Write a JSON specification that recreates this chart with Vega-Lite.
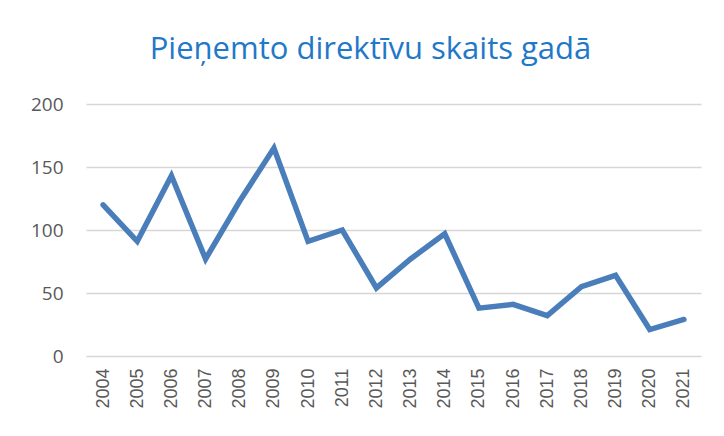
{
  "$schema": "https://vega.github.io/schema/vega-lite/v6.json",
  "autosize": {"type": "none"},
  "width": 615,
  "height": 252,
  "padding": {"left": 86, "top": 104, "right": 23, "bottom": 80},
  "background": "white",
  "title": {
    "text": "Pieņemto direktīvu skaits gadā",
    "font": "Open Sans",
    "fontSize": 31,
    "fontWeight": "normal",
    "color": "#1F78C8",
    "anchor": "middle",
    "dx": -23,
    "offset": 29
  },
  "data": {
    "values": [
      {"year": "2004", "count": 120},
      {"year": "2005", "count": 91},
      {"year": "2006", "count": 143},
      {"year": "2007", "count": 77},
      {"year": "2008", "count": 123},
      {"year": "2009", "count": 165},
      {"year": "2010", "count": 91},
      {"year": "2011", "count": 100},
      {"year": "2012", "count": 54},
      {"year": "2013", "count": 77},
      {"year": "2014", "count": 97},
      {"year": "2015", "count": 38},
      {"year": "2016", "count": 41},
      {"year": "2017", "count": 32},
      {"year": "2018", "count": 55},
      {"year": "2019", "count": 64},
      {"year": "2020", "count": 21},
      {"year": "2021", "count": 29}
    ]
  },
  "mark": {"type": "line", "color": "#4A7EBB", "strokeWidth": 5.5, "strokeJoin": "miter", "strokeCap": "round"},
  "encoding": {
    "x": {
      "field": "year",
      "type": "ordinal",
      "scale": {"type": "point", "padding": 0.5},
      "axis": {
        "title": null,
        "labelAngle": -90,
        "labelAlign": "right",
        "labelBaseline": "middle",
        "labelFont": "Liberation Sans",
        "labelFontSize": 18,
        "labelColor": "#595959",
        "labelPadding": 12,
        "ticks": false,
        "domain": false,
        "grid": false
      }
    },
    "y": {
      "field": "count",
      "type": "quantitative",
      "scale": {"domain": [0, 200], "nice": false, "zero": true},
      "axis": {
        "title": null,
        "values": [0, 50, 100, 150, 200],
        "labelFont": "Open Sans",
        "labelFontSize": 19,
        "labelColor": "#595959",
        "labelPadding": 23,
        "ticks": false,
        "domain": false,
        "grid": true,
        "gridColor": "#D6D6D6",
        "gridWidth": 1.5
      }
    }
  },
  "config": {"view": {"stroke": null}}
}
